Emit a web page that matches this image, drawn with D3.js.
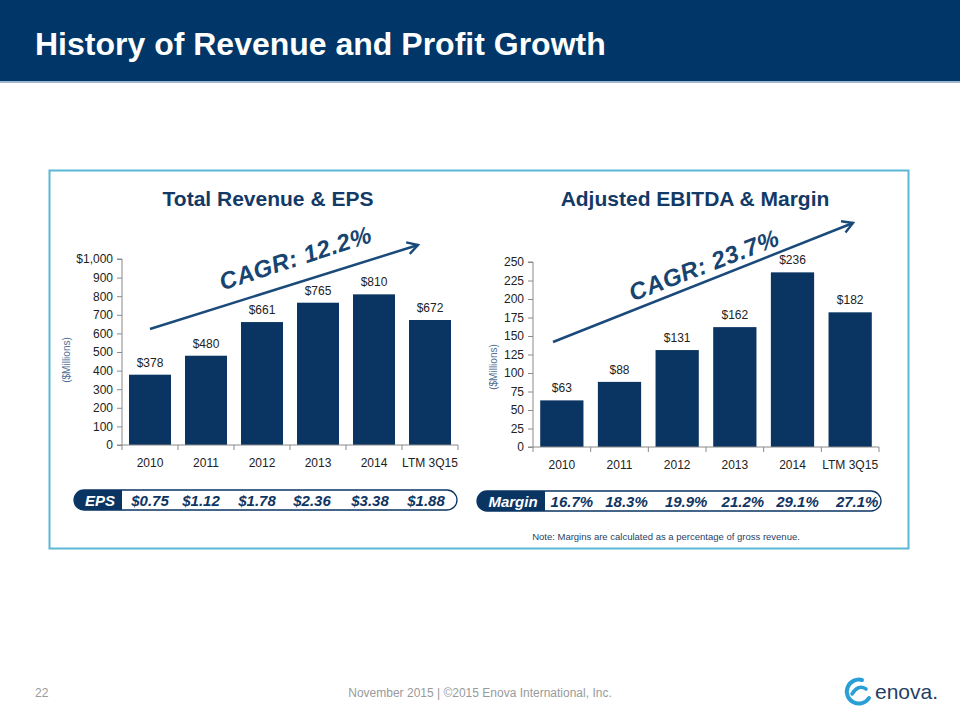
<!DOCTYPE html>
<html><head><meta charset="utf-8">
<script src="https://cdn.jsdelivr.net/npm/d3@7"></script>
<style>
body{margin:0;background:#fff;}
svg{display:block;font-family:Arial,"Liberation Sans",sans-serif;}
</style></head>
<body>
<script>
const categories = ["2010","2011","2012","2013","2014","LTM 3Q15"];
const revenue = [378,480,661,765,810,672];
const ebitda = [63,88,131,162,236,182];
const eps = ["$0.75","$1.12","$1.78","$2.36","$3.38","$1.88"];
const margin = ["16.7%","18.3%","19.9%","21.2%","29.1%","27.1%"];
const revenueTicks = [0,100,200,300,400,500,600,700,800,900,1000];
const ebitdaTicks = [0,25,50,75,100,125,150,175,200,225,250];

const W=960,H=720;
const navy="#0a3563", header="#013668", txt="#222";
const svg=d3.select("body").append("svg").attr("width",W).attr("height",H);

// header
svg.append("rect").attr("x",0).attr("y",0).attr("width",W).attr("height",81).attr("fill",header);
svg.append("rect").attr("x",0).attr("y",81).attr("width",W).attr("height",2).attr("fill","#9fb6cc");
svg.append("text").attr("x",35).attr("y",55).attr("fill","#fff").attr("font-size",32).attr("font-weight","bold")
  .text("History of Revenue and Profit Growth");

// panel border
svg.append("rect").attr("x",49.5).attr("y",170.5).attr("width",859).attr("height",378)
  .attr("fill","none").attr("stroke","#5bb8d4").attr("stroke-width",2);

function chart(o){
  const g=svg.append("g");
  const x=d3.scaleBand().domain(categories).range([o.x0,o.x1]).paddingInner(0.25).paddingOuter(0.125);
  const y=d3.scaleLinear().domain([0,o.max]).range([o.y0,o.y1]);
  // title
  g.append("text").attr("x",o.tx).attr("y",206).attr("text-anchor","middle").attr("fill","#133a66")
    .attr("font-size",21).attr("font-weight","bold").text(o.title);
  // bars
  g.selectAll("rect.bar").data(o.values).join("rect").attr("class","bar")
    .attr("x",(d,i)=>x(categories[i])).attr("width",x.bandwidth())
    .attr("y",d=>y(d)).attr("height",d=>y(0)-y(d)).attr("fill",navy);
  g.selectAll("text.val").data(o.values).join("text").attr("class","val")
    .attr("x",(d,i)=>x(categories[i])+x.bandwidth()/2).attr("y",d=>y(d)-8)
    .attr("text-anchor","middle").attr("font-size",12).attr("fill",txt).text(d=>"$"+d);
  // y axis
  const ya=g.append("g").attr("transform",`translate(${o.x0},0)`)
    .call(d3.axisLeft(y).tickValues(o.ticks).tickSize(5).tickPadding(4).tickFormat(o.fmt));
  ya.selectAll("text").attr("font-size",12).attr("fill",txt).attr("font-family","Arial, Liberation Sans, sans-serif");
  ya.selectAll("line,path").attr("stroke","#8a8a8a");
  ya.select("path").attr("d",`M-5,${o.y0}H0V${o.y1}H-5`);
  // x axis
  const xa=g.append("g").attr("transform",`translate(0,${o.y0})`);
  xa.append("line").attr("x1",o.x0).attr("x2",o.x1).attr("stroke","#8a8a8a");
  const bounds=d3.range(categories.length+1).map(i=>o.x0+i*x.step());
  xa.selectAll("line.t").data(bounds).join("line").attr("class","t")
    .attr("x1",d=>d).attr("x2",d=>d).attr("y1",0).attr("y2",5).attr("stroke","#8a8a8a");
  xa.selectAll("text").data(categories).join("text")
    .attr("x",d=>x(d)+x.bandwidth()/2).attr("y",22).attr("text-anchor","middle")
    .attr("font-size",12).attr("fill",txt).text(d=>d);
  // y title
  g.append("text").attr("transform",`translate(${o.ylx},${o.yly}) rotate(-90)`).attr("text-anchor","middle")
    .attr("font-size",10).attr("fill","#4f6f96").text("($Millions)");
  // CAGR arrow
  const defsId="ah"+o.id;
  const defs=svg.append("defs");
  defs.append("marker").attr("id",defsId).attr("viewBox","0 0 10 10").attr("refX",8).attr("refY",5)
    .attr("markerWidth",6).attr("markerHeight",6).attr("orient","auto")
    .append("path").attr("d","M1,1L8,5L1,9").attr("fill","none").attr("stroke","#1a4a7a").attr("stroke-width",1.6);
  g.append("line").attr("x1",o.a[0]).attr("y1",o.a[1]).attr("x2",o.a[2]).attr("y2",o.a[3])
    .attr("stroke","#1a4a7a").attr("stroke-width",2.5).attr("marker-end",`url(#${defsId})`);
  g.append("text").attr("transform",`translate(${o.c[0]},${o.c[1]}) rotate(${o.c[2]})`)
    .attr("text-anchor","middle").attr("font-size",24).attr("font-weight","bold").attr("font-style","italic")
    .attr("fill","#174470").attr("letter-spacing",0.5).text(o.cagr);
  // pill
  const p=o.pill;
  const pg=g.append("g");
  const r=10;
  pg.append("rect").attr("x",p.x0).attr("y",p.y).attr("width",p.x1-p.x0).attr("height",20).attr("rx",r)
    .attr("fill","#fff").attr("stroke",navy).attr("stroke-width",1.3);
  pg.append("path").attr("d",`M${p.xm},${p.y}H${p.x0+r}A${r},${r} 0 0 0 ${p.x0+r},${p.y+20}H${p.xm}Z`).attr("fill",navy);
  pg.append("text").attr("x",(p.x0+p.xm)/2+2).attr("y",p.y+15.5).attr("text-anchor","middle").attr("fill","#fff")
    .attr("font-size",15).attr("font-weight","bold").attr("font-style","italic").text(p.label);
  pg.selectAll("text.pv").data(p.values).join("text").attr("class","pv")
    .attr("x",(d,i)=>x(categories[i])+x.bandwidth()/2+p.dx[i]).attr("y",p.y+15.5).attr("text-anchor","middle")
    .attr("fill","#0f3562").attr("font-size",15).attr("font-weight","bold").attr("font-style","italic").text(d=>d);
}

chart({id:1,title:"Total Revenue & EPS",tx:268,values:revenue,max:1000,ticks:revenueTicks,
  fmt:d=>d===1000?"$1,000":d, x0:122,x1:458,y0:445,y1:259,ylx:70,yly:360,
  a:[150,329,418,245], c:[298,266,-18], cagr:"CAGR: 12.2%",
  pill:{x0:74,x1:457,xm:122,y:490,label:"EPS",values:eps,dx:[0,-5,-5,-6,-4,-4]}});

chart({id:2,title:"Adjusted EBITDA & Margin",tx:695,values:ebitda,max:250,ticks:ebitdaTicks,
  fmt:d=>d, x0:533,x1:879,y0:447,y1:262,ylx:497,yly:367,
  a:[553,342,853,223], c:[707,273,-21], cagr:"CAGR: 23.7%",
  pill:{x0:477,x1:881,xm:545,y:491,label:"Margin",values:margin,dx:[10,7,9,8,5,7]}});

svg.append("text").attr("x",666).attr("y",540).attr("text-anchor","middle").attr("font-size",9.5)
  .attr("fill","#1f3f66").text("Note: Margins are calculated as a percentage of gross revenue.");

// footer
svg.append("text").attr("x",35).attr("y",697).attr("font-size",12).attr("fill","#9a9a9a").text("22");
svg.append("text").attr("x",480).attr("y",697).attr("text-anchor","middle").attr("font-size",12).attr("fill","#9a9a9a")
  .text("November 2015  |  ©2015 Enova International, Inc.");
// logo
const lg=svg.append("g").attr("transform","translate(858,692)");
lg.append("path").attr("d","M4,-12 A12,12 0 1 0 11,6").attr("fill","none").attr("stroke","#2a9fd6").attr("stroke-width",4).attr("stroke-linecap","round");
lg.append("path").attr("d","M-6,2 Q0,-8 8,-3").attr("fill","none").attr("stroke","#2a9fd6").attr("stroke-width",3.5).attr("stroke-linecap","round");
svg.append("text").attr("x",875).attr("y",699).attr("font-size",21).attr("fill","#1f3f66").text("enova.");
</script>
</body></html>
